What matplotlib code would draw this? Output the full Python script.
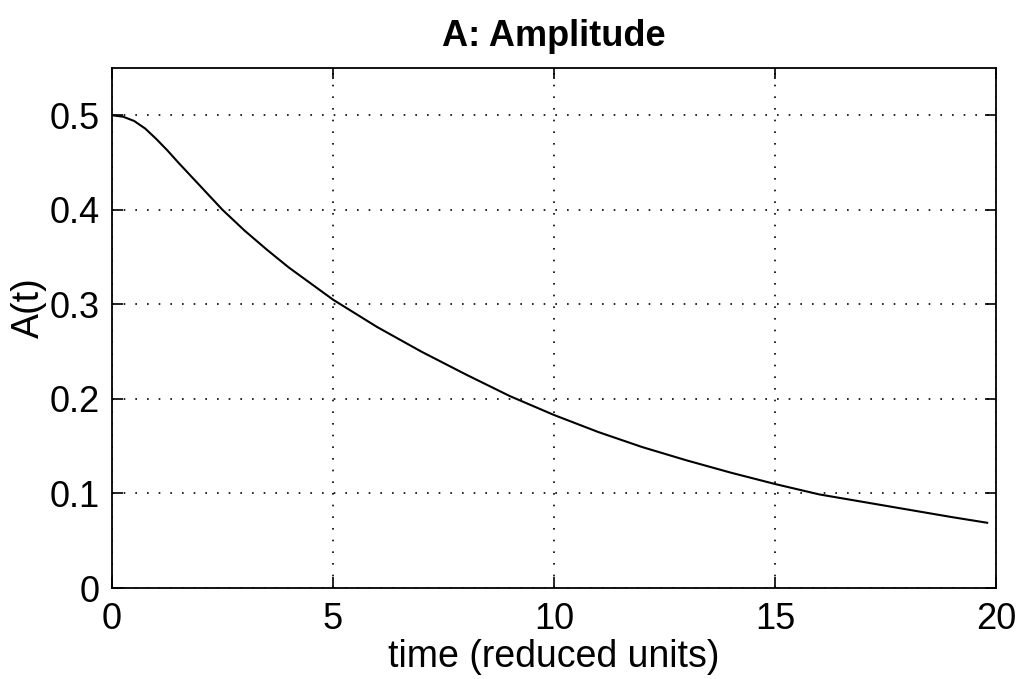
import matplotlib
matplotlib.use("Agg")
import matplotlib.pyplot as plt

plt.rcParams['font.family'] = ['Liberation Sans', 'DejaVu Sans']

t = [0, 0.25, 0.5, 0.75, 1, 1.25, 1.5, 2, 2.5, 3, 3.5, 4, 5, 6, 7, 8, 9, 10, 11, 12, 13, 14, 15, 16, 17, 18, 19, 19.8]
A = [0.500, 0.4985, 0.494, 0.486, 0.475, 0.463, 0.450, 0.425, 0.400, 0.378, 0.358, 0.339, 0.305, 0.276,
     0.250, 0.226, 0.203, 0.183, 0.165, 0.149, 0.135, 0.122, 0.110, 0.099, 0.091, 0.083, 0.075, 0.069]
xticks = [0, 5, 10, 15, 20]
yticks = [0, 0.1, 0.2, 0.3, 0.4, 0.5]
ytick_labels = ['0', '0.1', '0.2', '0.3', '0.4', '0.5']

fig = plt.figure(figsize=(10.24, 6.79), dpi=100)
ax = fig.add_axes([112/1024, 1 - 588/679, (996-112)/1024, (588-68)/679])
ax.plot(t, A, color='black', lw=1.5)
ax.set_xlim(0, 20)
ax.set_ylim(0, 0.55)
ax.set_xticks(xticks)
ax.set_xticklabels([str(v) for v in xticks])
ax.set_yticks(yticks)
ax.set_yticklabels(ytick_labels)
ax.grid(True, color='black', linestyle=(0, (1, 6)), linewidth=1.2)
ax.tick_params(direction='in', length=8, width=1.2, labelsize=26, top=True, right=True)
ax.tick_params(axis='x', pad=10)
ax.tick_params(axis='y', pad=9)
for s in ax.spines.values():
    s.set_linewidth(1.3)
    s.set_color('black')
ax.set_xlabel('time (reduced units)', fontsize=27)
ax.set_ylabel('A(t)', fontsize=27)
ax.xaxis.set_label_coords(0.5, -0.098)
ax.yaxis.set_label_coords(-0.074, 0.54)
ax.set_title('A: Amplitude', fontsize=26, fontweight='bold', pad=16)
fig.savefig('out.png', dpi=100)
